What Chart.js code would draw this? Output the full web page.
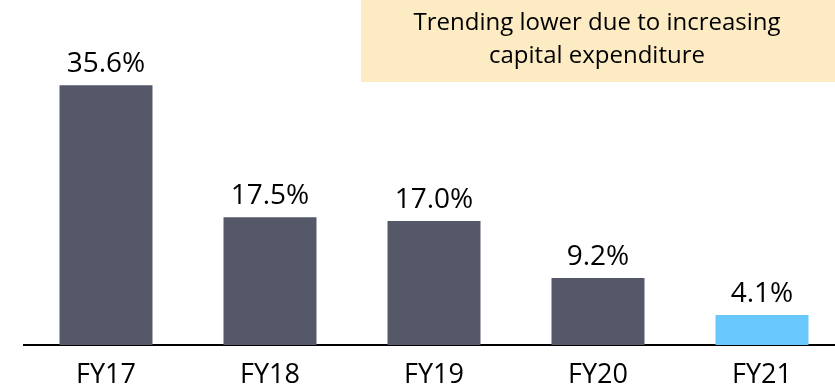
<!DOCTYPE html>
<html>
<head>
<meta charset="utf-8">
<script src="https://cdn.jsdelivr.net/npm/chart.js@4/dist/chart.umd.min.js"></script>
<style>
  html, body { margin: 0; padding: 0; background: #fff; overflow: hidden; }
  #wrap { width: 845px; height: 392px; }
</style>
</head>
<body>
<div id="wrap"><canvas id="barChart" width="845" height="392"></canvas></div>
<script>
// DATA
const years  = ['FY17', 'FY18', 'FY19', 'FY20', 'FY21'];
const ratios = [35.6, 17.5, 17.0, 9.2, 4.1];
const note   = ['Trending lower due to increasing', 'capital expenditure'];

const barColors = ['#555869', '#555869', '#555869', '#555869', '#69c8fb'];
const fontFamily = '"Open Sans", "Noto Sans", sans-serif';

// value labels above each bar
const valueLabels = {
  id: 'valueLabels',
  afterDatasetsDraw(chart) {
    const ctx = chart.ctx;
    const meta = chart.getDatasetMeta(0);
    ctx.save();
    ctx.fillStyle = '#000';
    ctx.font = '28px ' + fontFamily;
    ctx.textAlign = 'center';
    ctx.textBaseline = 'alphabetic';
    meta.data.forEach(function(bar, i) {
      ctx.fillText(ratios[i].toFixed(1) + '%', bar.x, bar.y - 13);
    });
    ctx.restore();
  }
};

// callout box in the top right
const noteBox = {
  id: 'noteBox',
  afterDraw(chart) {
    const ctx = chart.ctx;
    ctx.save();
    ctx.fillStyle = '#fdebc4';
    ctx.fillRect(361, 0, 484, 82);
    ctx.fillStyle = '#000';
    ctx.font = '24px ' + fontFamily;
    ctx.textAlign = 'center';
    ctx.textBaseline = 'alphabetic';
    ctx.fillText(note[0], 597, 30);
    ctx.fillText(note[1], 597, 63);
    ctx.restore();
  }
};

new Chart(document.getElementById('barChart'), {
  type: 'bar',
  data: {
    labels: years,
    datasets: [{
      data: ratios,
      backgroundColor: barColors,
      barPercentage: 0.567,
      categoryPercentage: 1.0
    }]
  },
  options: {
    responsive: false,
    animation: false,
    layout: { padding: { left: 24, right: 1, top: 0, bottom: 1 } },
    plugins: {
      legend: { display: false },
      tooltip: { enabled: false }
    },
    scales: {
      x: {
        grid: { display: false, drawTicks: false },
        border: { display: true, color: '#000', width: 2 },
        ticks: {
          color: '#000',
          padding: 14,
          font: { family: fontFamily, size: 27 }
        },
        afterFit: function(scale) { scale.height = 46; }
      },
      y: {
        display: false,
        min: 0,
        max: 47.3
      }
    }
  },
  plugins: [valueLabels, noteBox]
});
</script>
</body>
</html>
